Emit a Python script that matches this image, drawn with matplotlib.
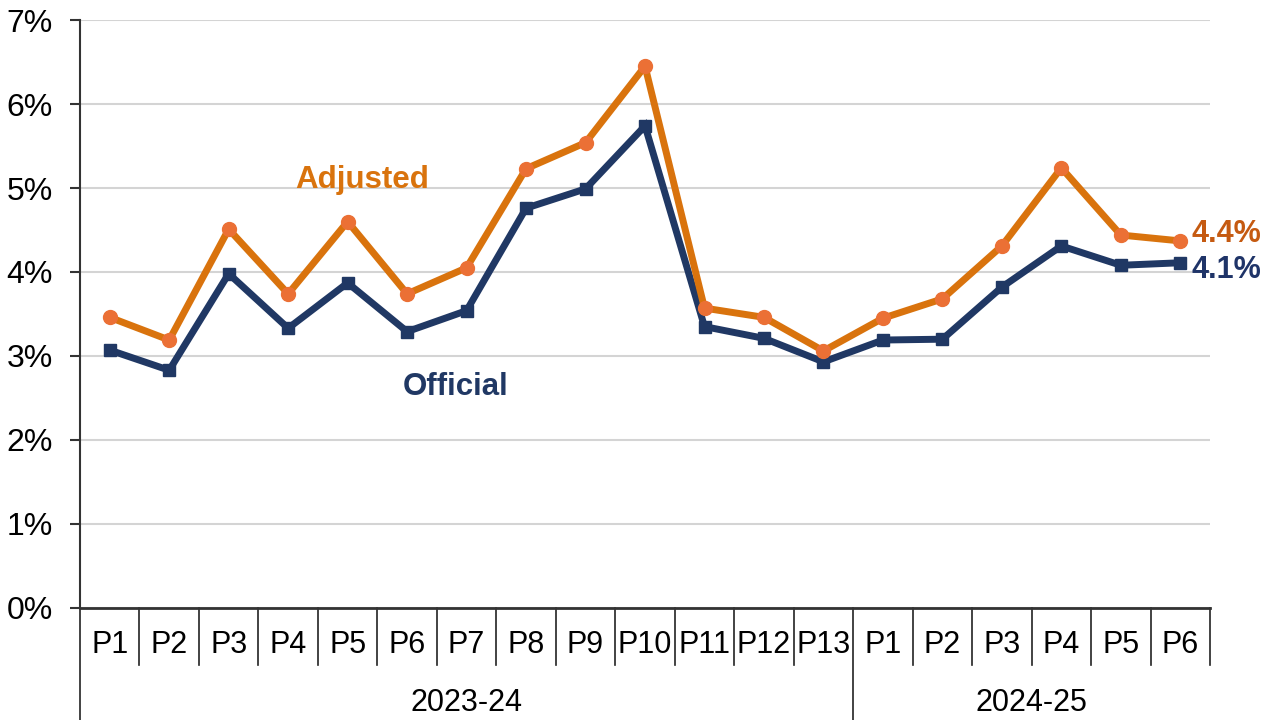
import numpy as np
import matplotlib.pyplot as plt
from matplotlib.ticker import FuncFormatter
import matplotlib.transforms as mtransforms

plt.rcParams['font.family'] = ['Liberation Sans', 'DejaVu Sans']

periods = ['P1', 'P2', 'P3', 'P4', 'P5', 'P6', 'P7', 'P8', 'P9', 'P10', 'P11', 'P12', 'P13',
           'P1', 'P2', 'P3', 'P4', 'P5', 'P6']
years = ['2023-24', '2024-25']
year_counts = [13, 6]

adjusted = [3.46, 3.19, 4.51, 3.74, 4.60, 3.74, 4.05, 5.23, 5.54, 6.45, 3.57, 3.46, 3.06,
            3.45, 3.68, 4.31, 5.24, 4.44, 4.37]
official = [3.07, 2.83, 3.98, 3.33, 3.87, 3.29, 3.54, 4.76, 4.99, 5.74, 3.35, 3.21, 2.93,
            3.19, 3.20, 3.82, 4.31, 4.08, 4.11]

orange = '#D9730D'
orange_mk = '#EB7035'
navy = '#203864'

fig = plt.figure(figsize=(12.74, 7.2), dpi=100)
ax = fig.add_axes([0.0628, 0.1556, 0.8870, 0.8166])

x = np.arange(len(periods))
ax.plot(x, official, color=navy, lw=5, marker='s', ms=9, mfc=navy, mec=navy,
        solid_joinstyle='miter', zorder=3)
ax.plot(x, adjusted, color=orange, lw=5, marker='o', ms=10, mfc=orange_mk, mec=orange_mk,
        zorder=4)

ax.set_xlim(-0.5, len(periods) - 0.5)
ax.set_ylim(0, 7)
ax.set_yticks(np.arange(0, 8, 1))
ax.yaxis.set_major_formatter(FuncFormatter(lambda v, p: '{:.0f}%'.format(v)))
ax.tick_params(axis='y', labelsize=23, length=7.5, width=1.5, color='#333333', pad=12)
ax.grid(axis='y', color='#D4D4D4', lw=1.5)
ax.set_axisbelow(True)

for s in ['top', 'right']:
    ax.spines[s].set_visible(False)
ax.spines['left'].set_color('#333333')
ax.spines['left'].set_linewidth(1.5)
ax.spines['bottom'].set_color('#333333')
ax.spines['bottom'].set_linewidth(2)

# category axis with boxes
ax.set_xticks([])
trans = mtransforms.blended_transform_factory(ax.transData, ax.transAxes)
inner = 57 / 588
outer = 112 / 588
bounds = [-0.5]
for c in year_counts:
    bounds.append(bounds[-1] + c)
for i in range(len(periods) + 1):
    xs = i - 0.5
    depth = outer if (xs in bounds[:-1]) else inner
    ax.plot([xs, xs], [0, -depth], transform=trans, color='#222222', lw=1.2, clip_on=False)
for i, p in enumerate(periods):
    ax.text(i, -37 / 588, p, transform=trans, ha='center', va='center', fontsize=22)
for j, yr in enumerate(years):
    mid = (bounds[j] + bounds[j + 1]) / 2
    ax.text(mid, -95 / 588, yr, transform=trans, ha='center', va='center', fontsize=22)

ax.text(4.25, 5.1, 'Adjusted', color=orange, fontsize=22.5, fontweight='bold',
        ha='center', va='center')
ax.text(5.82, 2.63, 'Official', color=navy, fontsize=22.5, fontweight='bold',
        ha='center', va='center')
ax.annotate('{:.1f}%'.format(adjusted[-1]), (x[-1], adjusted[-1]), xytext=(8, 5),
            textcoords='offset points', color='#C55A11', fontsize=22, fontweight='bold',
            va='center', ha='left', annotation_clip=False)
ax.annotate('{:.1f}%'.format(official[-1]), (x[-1], official[-1]), xytext=(8, -5),
            textcoords='offset points', color='#1F3468', fontsize=22, fontweight='bold',
            va='center', ha='left', annotation_clip=False)

fig.savefig('out.png', dpi=100)
